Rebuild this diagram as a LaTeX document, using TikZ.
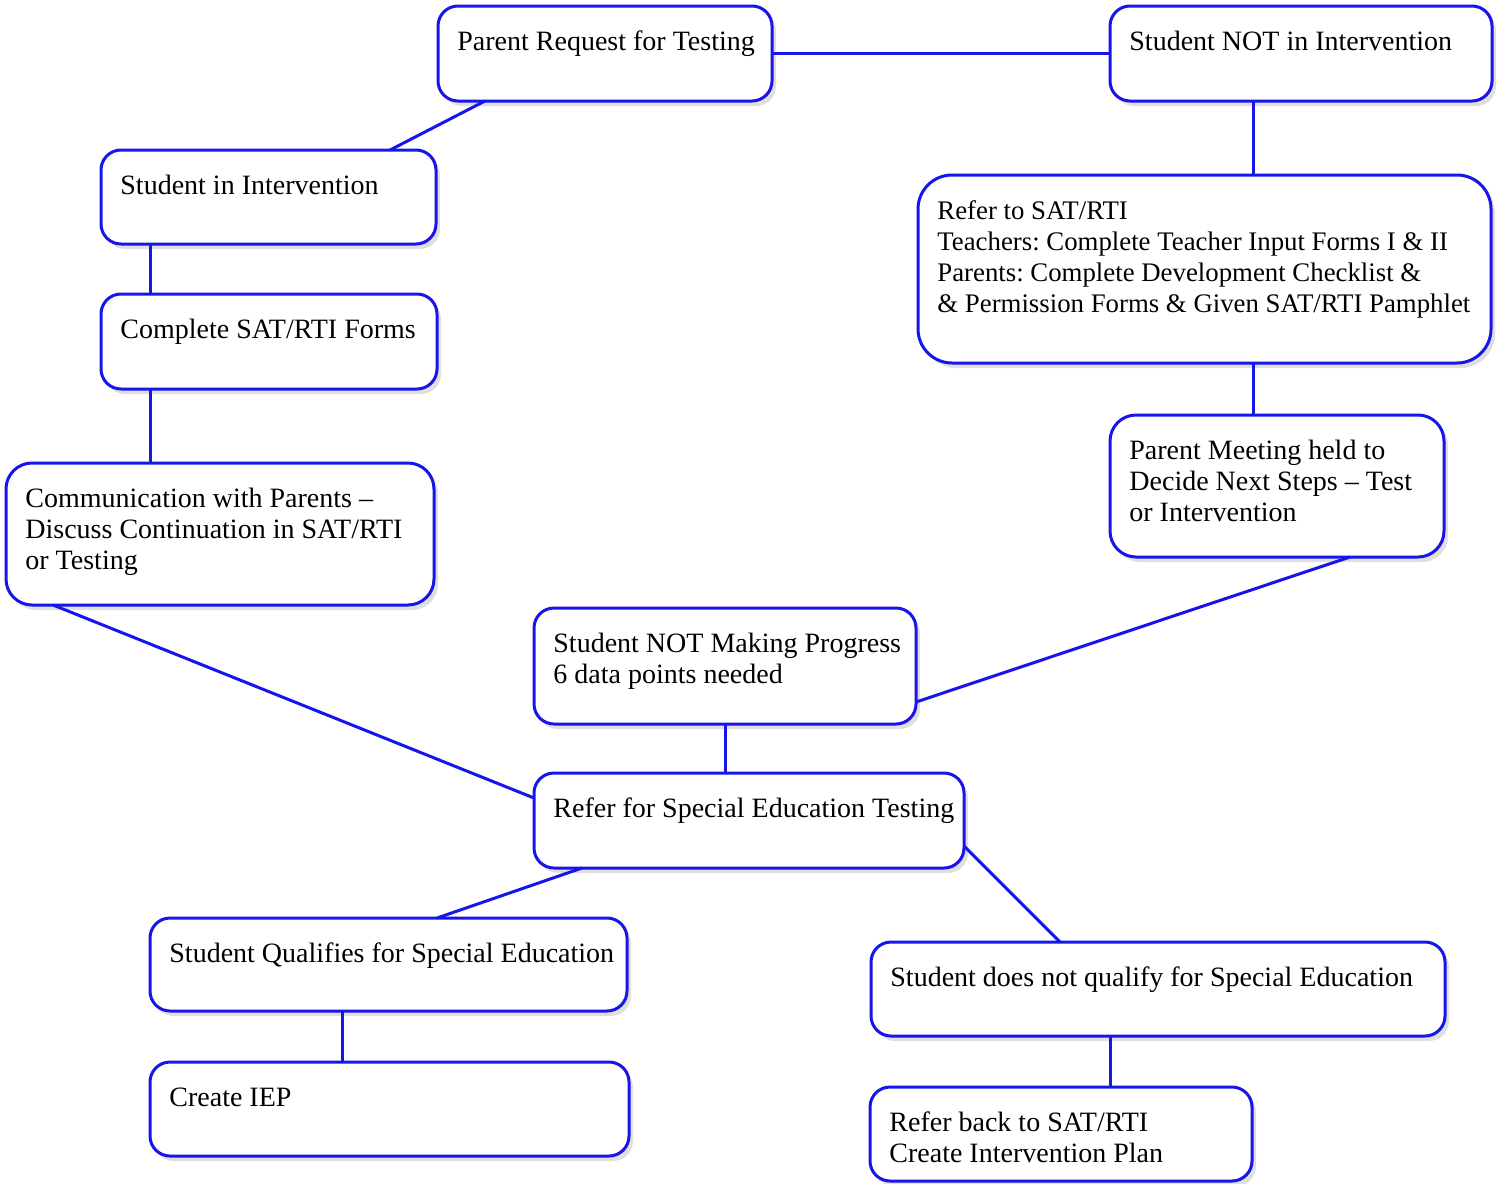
\documentclass[tikz,border=0pt]{standalone}
\usepackage{fontspec}
\setmainfont{Liberation Serif}
\usepackage{xcolor}
\usetikzlibrary{fit,shadows,calc}
\definecolor{flowblue}{RGB}{22,22,235}
\frenchspacing

\begin{document}
\begin{tikzpicture}[
  x=0.5pt, y=-0.5pt,
  every node/.style={font=\fontsize{14}{15.5}\selectfont},
  box/.style={draw=flowblue, line width=1.5pt, rounded corners=10pt, fill=white, inner sep=0pt, outer sep=0pt,
    drop shadow={shadow xshift=2pt, shadow yshift=-2.5pt, fill=black!25, opacity=0.5}},
  txt/.style={anchor=north west, align=left, inner sep=0pt, xshift=9.5pt, yshift=-11.15pt},
  link/.style={draw=flowblue, line width=1.5pt}
]
\useasboundingbox (0,0) rectangle (1502,1183);
\node[box, fit={(438,6) (772,101)}, label={[txt]north west:\strut Parent Request for Testing}] (req) {};
\node[box, fit={(1110,6) (1492,101)}, label={[txt]north west:\strut Student NOT in Intervention}] (notint) {};
\node[box, fit={(101,150) (436,244)}, label={[txt]north west:\strut Student in Intervention}] (int) {};
\node[box, fit={(101,294) (437,389)}, label={[txt]north west:\strut Complete SAT/RTI Forms}] (forms) {};
\node[box, rounded corners=13pt, fit={(6,463) (434,605)}, label={[txt]north west:\strut Communication with Parents --\\Discuss Continuation in SAT/RTI\\or Testing}] (comm) {};
\node[box, rounded corners=17pt, fit={(918,175) (1491,363)}, label={[txt, font=\fontsize{13.4}{15.5}\selectfont]north west:\strut Refer to SAT/RTI\\Teachers: Complete Teacher Input Forms I \& II\\Parents: Complete Development Checklist \&\\\& Permission Forms \& Given SAT/RTI Pamphlet}] (sat) {};
\node[box, rounded corners=13pt, fit={(1110,415) (1444,557)}, label={[txt]north west:\strut Parent Meeting held to\\Decide Next Steps -- Test\\or Intervention}] (meet) {};
\node[box, fit={(534,608) (916,724)}, label={[txt]north west:\strut Student NOT Making Progress\\6 data points needed}] (prog) {};
\node[box, fit={(534,773) (964,868)}, label={[txt]north west:\strut Refer for Special Education Testing}] (ref) {};
\node[box, fit={(150,918) (627,1011)}, label={[txt]north west:\strut Student Qualifies for Special Education}] (qual) {};
\node[box, fit={(871,942) (1445,1036)}, label={[txt]north west:\strut Student does not qualify for Special Education}] (notq) {};
\node[box, fit={(150,1062) (629,1156)}, label={[txt]north west:\strut Create IEP}] (iep) {};
\node[box, fit={(870,1087) (1252,1181)}, label={[txt]north west:\strut Refer back to SAT/RTI\\Create Intervention Plan}] (back) {};
\draw[link] (req.east) -- (notint.west);
\draw[link] ($(req.south west)+(47,0)$) -- ($(int.north west)+(289,0)$);
\draw[link] ($(notint.south west)+(143,0)$) -- ($(sat.north west)+(335,0)$);
\draw[link] ($(int.south west)+(49,0)$) -- ($(forms.north west)+(49,0)$);
\draw[link] ($(forms.south west)+(49,0)$) -- ($(comm.north west)+(144,0)$);
\draw[link] ($(sat.south west)+(335,0)$) -- ($(meet.north west)+(143,0)$);
\draw[link] ($(meet.south west)+(240,0)$) -- ($(prog.south east)+(0,-22)$);
\draw[link] ($(comm.south west)+(47,0)$) -- ($(ref.north west)+(0,25)$);
\draw[link] ($(prog.south west)+(191,0)$) -- ($(ref.north west)+(191,0)$);
\draw[link] ($(ref.south west)+(48,0)$) -- ($(qual.north west)+(287,0)$);
\draw[link] ($(ref.south east)+(0,-22)$) -- ($(notq.north west)+(189,0)$);
\draw[link] ($(qual.south west)+(192,0)$) -- ($(iep.north west)+(192,0)$);
\draw[link] ($(notq.south west)+(239,0)$) -- ($(back.north west)+(240,0)$);
\end{tikzpicture}
\end{document}
